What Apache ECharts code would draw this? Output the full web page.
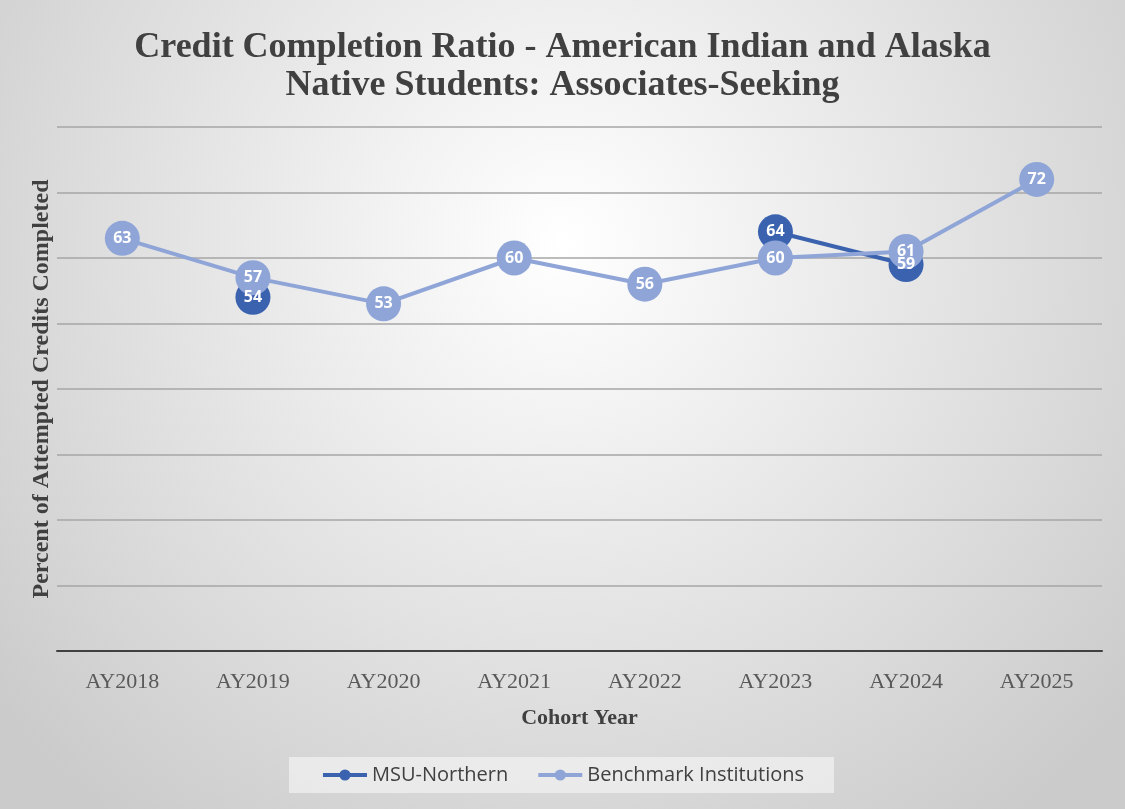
<!DOCTYPE html>
<html>
<head>
<meta charset="utf-8">
<script src="https://cdn.jsdelivr.net/npm/echarts@6/dist/echarts.min.js"></script>
<style>
  html, body { margin: 0; padding: 0; }
  #main { width: 1125px; height: 809px; }
</style>
</head>
<body>
<div id="main"></div>
<script>
var years = ['AY2018', 'AY2019', 'AY2020', 'AY2021', 'AY2022', 'AY2023', 'AY2024', 'AY2025'];
var msuNorthern = [null, 54, null, null, null, 64, 59, null];
var benchmark = [63, 57, 53, 60, 56, 60, 61, 72];

var serif = '"Liberation Serif", "DejaVu Serif", serif';
var sans = '"Open Sans", "Liberation Sans", sans-serif';

var myChart = echarts.init(document.getElementById('main'));

// one line series, gaps are left open (no connectNulls)
function lineSeries(name, data, color) {
  return {
    name: name,
    type: 'line',
    data: data,
    symbol: 'circle',
    symbolSize: 35,
    lineStyle: { width: 4, color: color },
    itemStyle: { color: color },
    label: {
      show: true,
      position: 'inside',
      color: '#ffffff',
      fontFamily: sans,
      fontWeight: 'bold',
      fontSize: 16
    }
  };
}

var option = {
  backgroundColor: {
    type: 'radial', x: 0.5, y: 0.3, r: 0.9,
    colorStops: [
      { offset: 0, color: '#ffffff' },
      { offset: 1, color: '#cbcbcb' }
    ]
  },
  title: {
    text: 'Credit Completion Ratio - American Indian and Alaska\nNative Students: Associates-Seeking',
    left: 'center',
    top: 24,
    textStyle: {
      fontFamily: serif,
      fontWeight: 'bold',
      fontSize: 36,
      lineHeight: 38,
      color: '#404040'
    }
  },
  legend: {
    bottom: 16,
    left: 'center',
    data: ['MSU-Northern', 'Benchmark Institutions'],
    backgroundColor: 'rgba(240,240,240,0.75)',
    padding: [8, 30, 8, 32],
    itemGap: 28,
    itemWidth: 44,
    itemHeight: 14,
    lineStyle: { width: 4 },
    textStyle: { fontFamily: sans, fontSize: 20, color: '#404040' }
  },
  grid: { left: 57, right: 23, top: 127, bottom: 158 },
  xAxis: {
    type: 'category',
    data: years,
    name: 'Cohort Year',
    nameLocation: 'middle',
    nameGap: 56,
    nameTextStyle: { fontFamily: serif, fontWeight: 'bold', fontSize: 22, color: '#404040' },
    axisLine: { lineStyle: { color: '#404040', width: 2 } },
    axisTick: { show: false },
    axisLabel: { fontFamily: serif, fontSize: 22, color: '#595959', margin: 20 }
  },
  yAxis: {
    type: 'value',
    min: 0,
    max: 80,
    interval: 10,
    name: 'Percent of Attempted Credits Completed',
    nameLocation: 'middle',
    nameGap: 3,
    nameTextStyle: { fontFamily: serif, fontWeight: 'bold', fontSize: 24, color: '#404040' },
    axisLine: { show: false },
    axisTick: { show: false },
    axisLabel: { show: false },
    splitLine: { lineStyle: { color: '#a6a6a6', width: 1.5 } }
  },
  series: [
    lineSeries('MSU-Northern', msuNorthern, '#3b62af'),
    lineSeries('Benchmark Institutions', benchmark, '#8fa5d7')
  ]
};
myChart.setOption(option);
</script>
</body>
</html>
